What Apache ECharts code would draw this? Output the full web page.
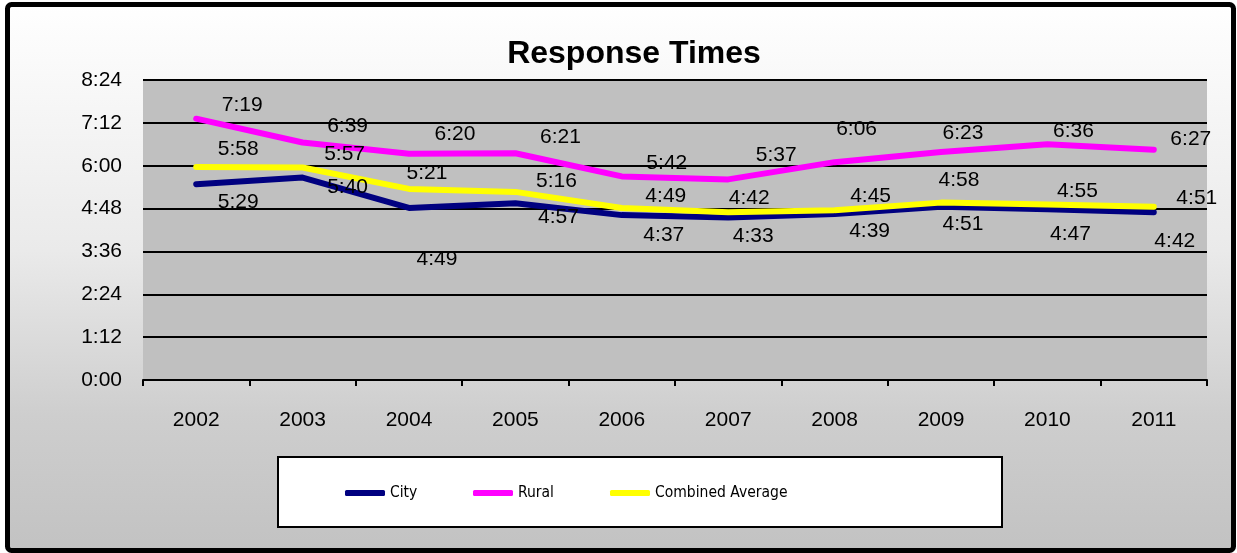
<!DOCTYPE html>
<html>
<head>
<meta charset="utf-8">
<script src="https://cdn.jsdelivr.net/npm/echarts@6/dist/echarts.min.js"></script>
<style>
  html, body { margin: 0; padding: 0; background: #ffffff; }
  #chart { width: 1237px; height: 553px; }
</style>
</head>
<body>
<div id="chart"></div>
<script>
// ---- data (response times, m:ss) ----
const years = ['2002', '2003', '2004', '2005', '2006', '2007', '2008', '2009', '2010', '2011'];
const cityTimes = ['5:29', '5:40', '4:49', '4:57', '4:37', '4:33', '4:39', '4:51', '4:47', '4:42'];
const ruralTimes = ['7:19', '6:39', '6:20', '6:21', '5:42', '5:37', '6:06', '6:23', '6:36', '6:27'];
const combinedTimes = ['5:58', '5:57', '5:21', '5:16', '4:49', '4:42', '4:45', '4:58', '4:55', '4:51'];
const yAxisMax = '8:24';
const yAxisStep = '1:12';

// ---- label nudges (layout only: offset of each value label from its point) ----
const cityLabelNudge = [[42, 18], [45, 10], [28, 51], [43, 14], [42, 20], [25, 19], [35, 17], [22, 17], [23, 25], [21, 29]];
const ruralLabelNudge = [[46, -13], [45, -16], [46, -20], [45, -16], [45, -13], [48, -24], [22, -33], [22, -19], [26, -13], [37, -10]];
const combinedLabelNudge = [[42, -18], [42, -13], [18, -16], [41, -11], [44, -12], [21, -14], [36, -14], [18, -22], [30, -13], [43, -9]];

function toSec(s) { const p = s.split(':'); return (+p[0]) * 60 + (+p[1]); }
function fmt(v) { const m = Math.floor(v / 60); const s = Math.round(v - m * 60); return m + ':' + (s < 10 ? '0' : '') + s; }

const FONT = "'Liberation Sans', Arial, Helvetica, sans-serif";
const NARROW = "'DejaVu Sans Condensed', 'Liberation Sans Narrow', sans-serif";

function lineSeries(name, color, times, nudges) {
  return {
    name: name,
    type: 'line',
    data: times.map(toSec),
    symbol: 'circle',
    symbolSize: 1,
    showSymbol: true,
    itemStyle: { color: color },
    lineStyle: { color: color, width: 6, cap: 'round', join: 'round' },
    emphasis: { disabled: true },
    label: {
      show: true,
      position: 'inside',
      align: 'center',
      verticalAlign: 'middle',
      color: '#000',
      fontSize: 21,
      fontFamily: FONT,
      formatter: p => fmt(p.value)
    },
    labelLayout: function (params) {
      const n = nudges[params.dataIndex] || [0, 0];
      return { dx: n[0], dy: n[1], hideOverlap: false };
    }
  };
}

const chart = echarts.init(document.getElementById('chart'), null, { renderer: 'canvas' });

const legendCommon = {
  orient: 'horizontal',
  top: 485,
  padding: 0,
  icon: 'roundRect',
  itemWidth: 40,
  itemHeight: 6,
  selectedMode: false,
  textStyle: { fontSize: 15.5, fontFamily: NARROW, color: '#000' }
};

chart.setOption({
  animation: false,
  backgroundColor: 'transparent',
  title: {
    text: 'Response Times',
    left: 634,
    textAlign: 'center',
    top: 38,
    padding: 0,
    textStyle: { fontSize: 32, fontWeight: 'bold', fontFamily: FONT, color: '#000' }
  },
  graphic: [
    {
      type: 'rect',
      z: -100,
      shape: { x: 7.5, y: 4.5, width: 1226, height: 546, r: 4 },
      style: {
        fill: new echarts.graphic.LinearGradient(0, 0, 0, 1, [
          { offset: 0, color: '#ffffff' },
          { offset: 0.45, color: '#eaeaea' },
          { offset: 0.75, color: '#cecece' },
          { offset: 1, color: '#c2c2c2' }
        ]),
        stroke: '#000',
        lineWidth: 5
      }
    },
    {
      type: 'rect',
      z: 1,
      shape: { x: 278, y: 457, width: 724, height: 70 },
      style: { fill: '#ffffff', stroke: '#000', lineWidth: 2 }
    }
  ],
  legend: [
    Object.assign({}, legendCommon, { left: 345, data: ['City'] }),
    Object.assign({}, legendCommon, { left: 473, data: ['Rural'] }),
    Object.assign({}, legendCommon, { left: 610, data: ['Combined Average'] })
  ],
  grid: {
    left: 143,
    right: 30,
    top: 80,
    bottom: 173,
    show: true,
    backgroundColor: '#c0c0c0',
    borderWidth: 0
  },
  xAxis: {
    type: 'category',
    data: years,
    boundaryGap: true,
    axisLine: { show: true, lineStyle: { color: '#000', width: 2 } },
    axisTick: { show: true, length: 6, interval: 0, lineStyle: { color: '#000', width: 2 } },
    axisLabel: { color: '#000', fontSize: 21, fontFamily: FONT, margin: 30, interval: 0 },
    splitLine: { show: false }
  },
  yAxis: {
    type: 'value',
    min: 0,
    max: toSec(yAxisMax),
    interval: toSec(yAxisStep),
    axisLine: { show: false },
    axisTick: { show: false },
    axisLabel: { color: '#000', fontSize: 21, fontFamily: FONT, margin: 21, formatter: v => fmt(v) },
    splitLine: { show: true, lineStyle: { color: '#000', width: 2 } }
  },
  series: [
    lineSeries('City', '#000080', cityTimes, cityLabelNudge),
    lineSeries('Rural', '#ff00ff', ruralTimes, ruralLabelNudge),
    lineSeries('Combined Average', '#ffff00', combinedTimes, combinedLabelNudge)
  ]
});
</script>
</body>
</html>
